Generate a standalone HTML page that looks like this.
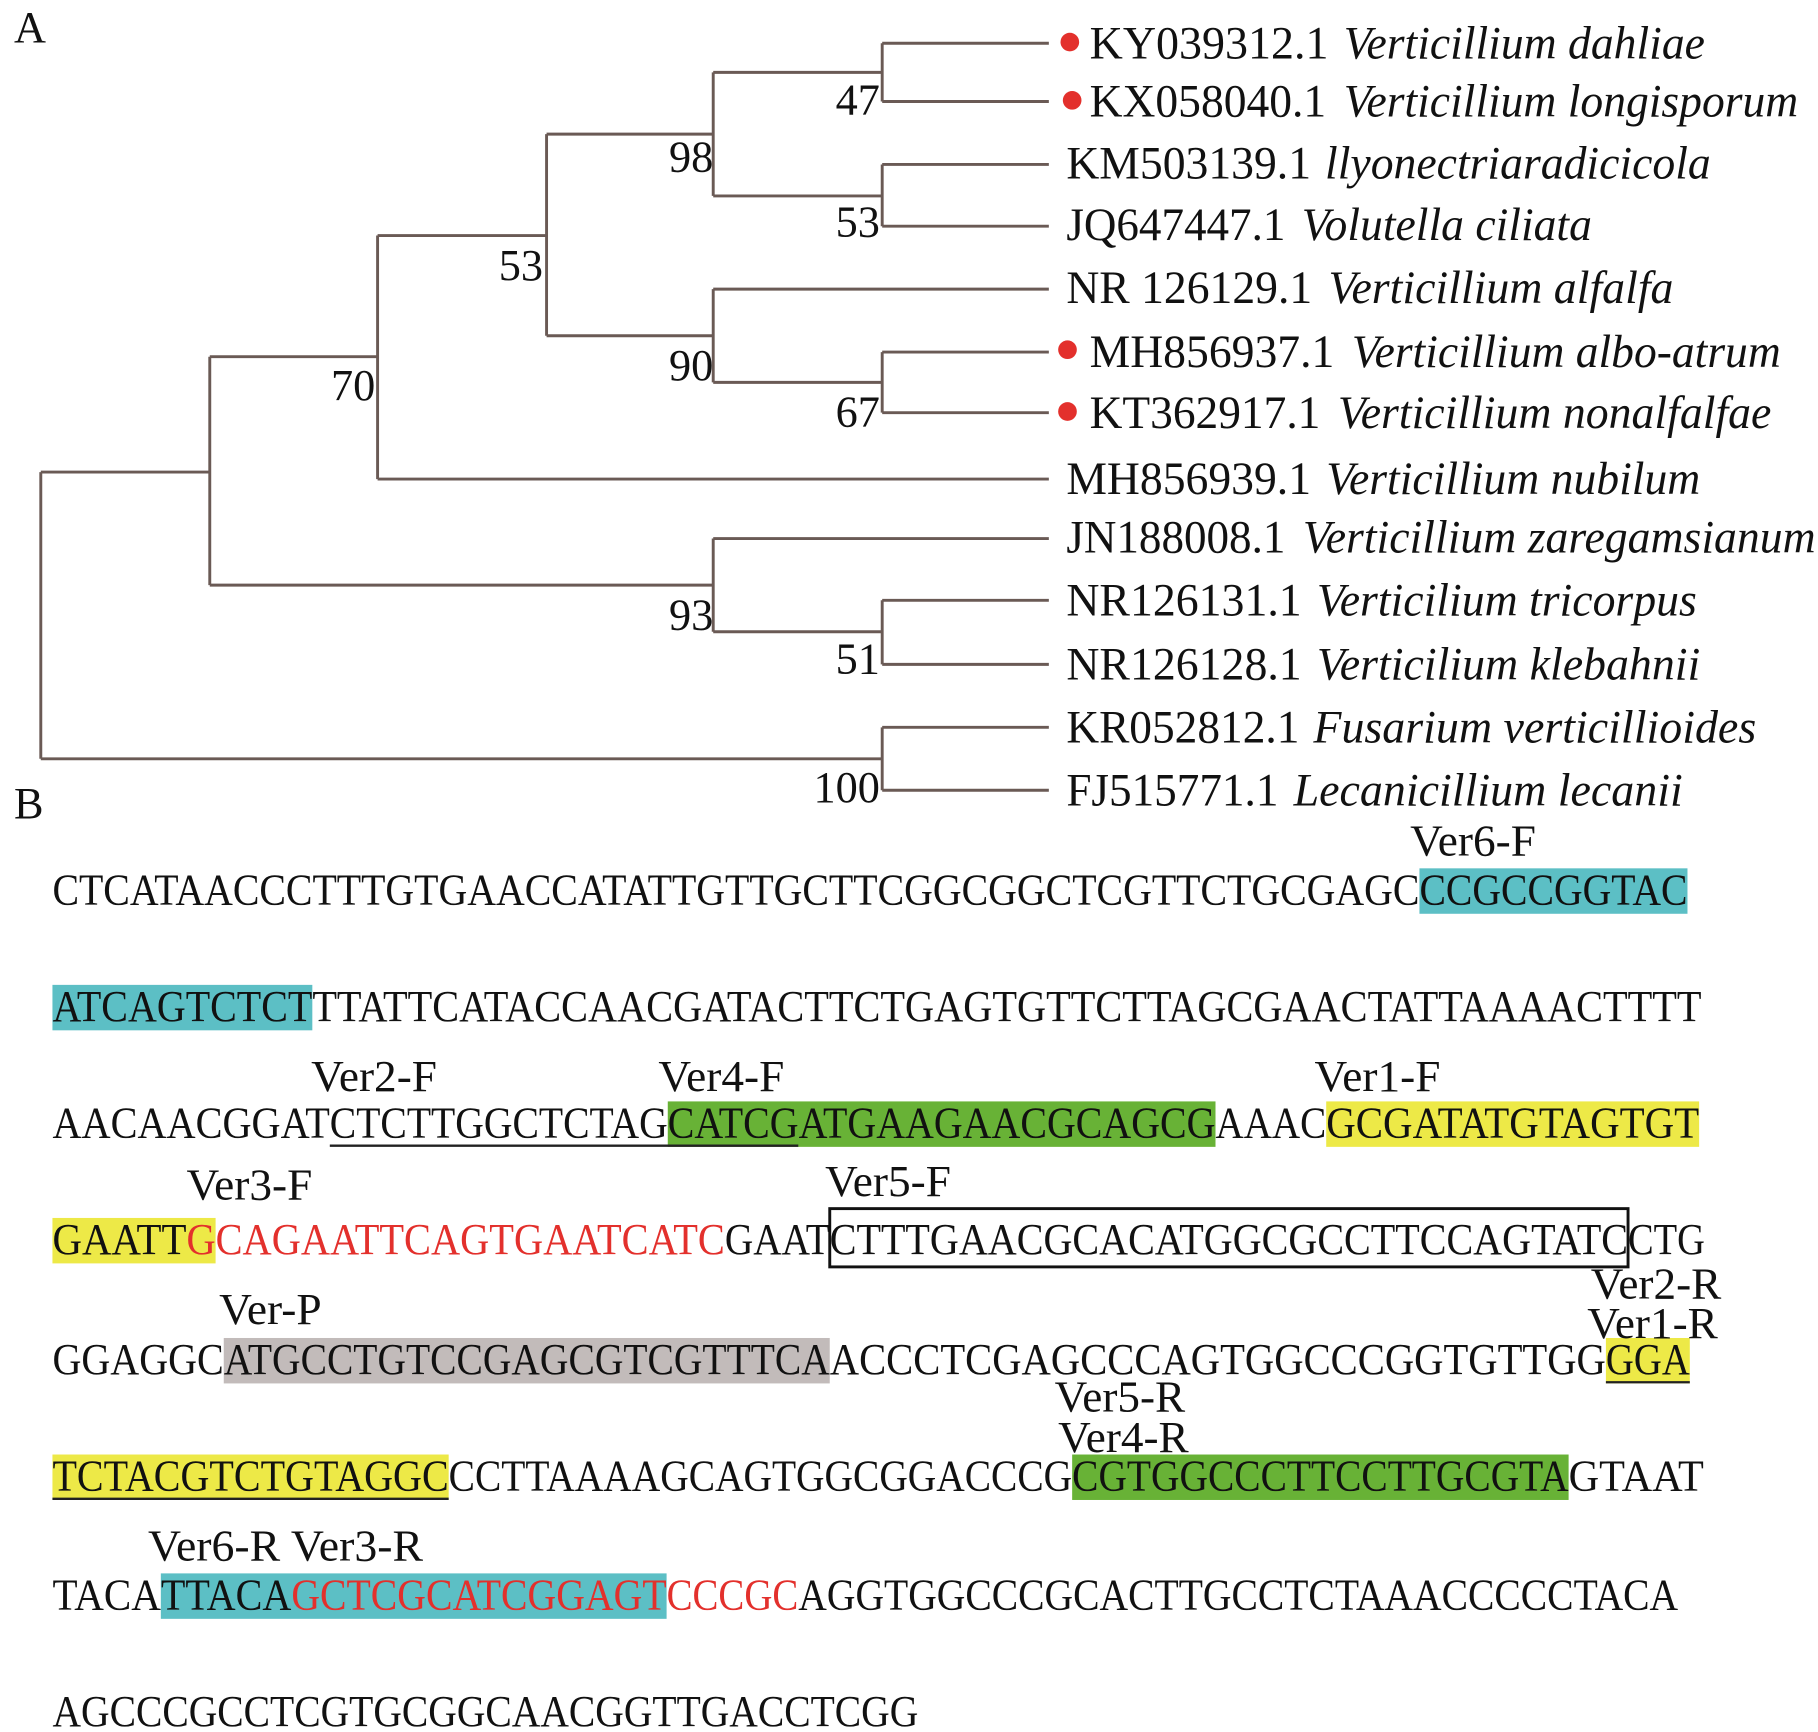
<!DOCTYPE html>
<html><head><meta charset="utf-8"><style>
html,body{margin:0;padding:0;background:#fff;}
svg{display:block;}
text{font-family:"Liberation Serif","DejaVu Serif",serif;font-size:38px;fill:#111;}
.t{font-size:40px;}
.i{font-style:italic;}
.r{fill:#e3302c;}
</style></head><body>
<svg width="1818" height="1732" viewBox="0 0 1560 1486" xmlns="http://www.w3.org/2000/svg">
<g stroke="#6a5a55" stroke-width="2.5" fill="none">
<path d="M35 405H180M180 306V502M180 306H324M180 502H612M324 202V411M324 202H469M324 411H900M469 115V288M469 115H612M469 288H612M612 62V168M612 62H757M612 168H757M757 37V87M757 37H900M757 87H900M757 141V194M757 141H900M757 194H900M612 248V328M612 248H900M612 328H757M757 302V354M757 302H900M757 354H900M612 462V542M612 462H900M612 542H757M757 515V570M757 515H900M757 570H900M35 405V651M35 651H757M757 624V678M757 624H900M757 678H900"/>
</g>
<text x="12" y="36">A</text>
<text x="12" y="702">B</text>
<g text-anchor="end">
<text x="755" y="98">47</text><text x="612" y="147">98</text><text x="755" y="203">53</text>
<text x="466" y="240">53</text><text x="612" y="326">90</text><text x="755" y="366">67</text>
<text x="322" y="343">70</text><text x="612" y="540">93</text><text x="755" y="578">51</text>
<text x="755" y="688">100</text>
</g>
<g fill="#e3302c"><circle cx="918" cy="36" r="8"/><circle cx="920" cy="86" r="8"/><circle cx="916" cy="300" r="8"/><circle cx="916" cy="353" r="8"/></g>
<g class="t">
<text class="t" x="935" y="50" textLength="205" lengthAdjust="spacingAndGlyphs">KY039312.1</text>
<text class="t i" x="1153" y="50" textLength="310" lengthAdjust="spacingAndGlyphs">Verticillium dahliae</text>
<text class="t" x="935" y="100" textLength="203" lengthAdjust="spacingAndGlyphs">KX058040.1</text>
<text class="t i" x="1153" y="100" textLength="390" lengthAdjust="spacingAndGlyphs">Verticillium longisporum</text>
<text class="t" x="915" y="153" textLength="210" lengthAdjust="spacingAndGlyphs">KM503139.1</text>
<text class="t i" x="1137" y="153" textLength="331" lengthAdjust="spacingAndGlyphs">llyonectriaradicicola</text>
<text class="t" x="915" y="206" textLength="188" lengthAdjust="spacingAndGlyphs">JQ647447.1</text>
<text class="t i" x="1117" y="206" textLength="249" lengthAdjust="spacingAndGlyphs">Volutella ciliata</text>
<text class="t" x="915" y="260" textLength="211" lengthAdjust="spacingAndGlyphs">NR 126129.1</text>
<text class="t i" x="1140" y="260" textLength="296" lengthAdjust="spacingAndGlyphs">Verticillium alfalfa</text>
<text class="t" x="935" y="315" textLength="210" lengthAdjust="spacingAndGlyphs">MH856937.1</text>
<text class="t i" x="1160" y="315" textLength="368" lengthAdjust="spacingAndGlyphs">Verticillium albo-atrum</text>
<text class="t" x="935" y="367" textLength="198" lengthAdjust="spacingAndGlyphs">KT362917.1</text>
<text class="t i" x="1148" y="367" textLength="372" lengthAdjust="spacingAndGlyphs">Verticillium nonalfalfae</text>
<text class="t" x="915" y="424" textLength="210" lengthAdjust="spacingAndGlyphs">MH856939.1</text>
<text class="t i" x="1138" y="424" textLength="321" lengthAdjust="spacingAndGlyphs">Verticillium nubilum</text>
<text class="t" x="915" y="474" textLength="188" lengthAdjust="spacingAndGlyphs">JN188008.1</text>
<text class="t i" x="1118" y="474" textLength="440" lengthAdjust="spacingAndGlyphs">Verticillium zaregamsianum</text>
<text class="t" x="915" y="528" textLength="202" lengthAdjust="spacingAndGlyphs">NR126131.1</text>
<text class="t i" x="1130" y="528" textLength="326" lengthAdjust="spacingAndGlyphs">Verticilium tricorpus</text>
<text class="t" x="915" y="583" textLength="202" lengthAdjust="spacingAndGlyphs">NR126128.1</text>
<text class="t i" x="1130" y="583" textLength="329" lengthAdjust="spacingAndGlyphs">Verticilium klebahnii</text>
<text class="t" x="915" y="637" textLength="200" lengthAdjust="spacingAndGlyphs">KR052812.1</text>
<text class="t i" x="1127" y="637" textLength="380" lengthAdjust="spacingAndGlyphs">Fusarium verticillioides</text>
<text class="t" x="915" y="691" textLength="182" lengthAdjust="spacingAndGlyphs">FJ515771.1</text>
<text class="t i" x="1110" y="691" textLength="334" lengthAdjust="spacingAndGlyphs">Lecanicillium lecanii</text>
</g>

<rect x="1218" y="745" width="230" height="39" fill="#5cbfc5"/>
<rect x="45" y="845" width="223" height="39" fill="#5cbfc5"/>
<rect x="573" y="945" width="470" height="39" fill="#68b236"/>
<rect x="1138" y="945" width="320" height="39" fill="#ede947"/>
<rect x="45" y="1045" width="140" height="39" fill="#ede947"/>
<rect x="712" y="1037" width="685" height="50" fill="none" stroke="#111" stroke-width="2.5"/>
<rect x="192" y="1148" width="520" height="39" fill="#c2bbba"/>
<rect x="1378" y="1148" width="72" height="39" fill="#ede947"/>
<rect x="45" y="1248" width="340" height="39" fill="#ede947"/>
<rect x="920" y="1248" width="426" height="39" fill="#68b236"/>
<rect x="138" y="1350" width="434" height="39" fill="#5cbfc5"/>
<g stroke="#222" stroke-width="2"><path d="M283 983H685M1378 1186H1450M45 1286H385"/></g>

<g>
<text x="45" y="776" textLength="1173" lengthAdjust="spacingAndGlyphs">CTCATAACCCTTTGTGAACCATATTGTTGCTTCGGCGGCTCGTTCTGCGAGC</text>
<text x="1218" y="776" textLength="230" lengthAdjust="spacingAndGlyphs">CCGCCGGTAC</text>
<text x="1210" y="734" textLength="108" lengthAdjust="spacingAndGlyphs">Ver6-F</text>

<text x="45" y="876" textLength="223" lengthAdjust="spacingAndGlyphs">ATCAGTCTCT</text>
<text x="268" y="876" textLength="1192" lengthAdjust="spacingAndGlyphs">TTATTCATACCAACGATACTTCTGAGTGTTCTTAGCGAACTATTAAAACTTTT</text>

<text x="267" y="936" textLength="108" lengthAdjust="spacingAndGlyphs">Ver2-F</text><text x="565" y="936" textLength="108" lengthAdjust="spacingAndGlyphs">Ver4-F</text><text x="1128" y="936" textLength="108" lengthAdjust="spacingAndGlyphs">Ver1-F</text>
<text x="45" y="976" textLength="238" lengthAdjust="spacingAndGlyphs">AACAACGGAT</text>
<text x="283" y="976" textLength="290" lengthAdjust="spacingAndGlyphs">CTCTTGGCTCTAG</text>
<text x="573" y="976" textLength="470" lengthAdjust="spacingAndGlyphs">CATCGATGAAGAACGCAGCG</text>
<text x="1043" y="976" textLength="95" lengthAdjust="spacingAndGlyphs">AAAC</text>
<text x="1138" y="976" textLength="320" lengthAdjust="spacingAndGlyphs">GCGATATGTAGTGT</text>

<text x="160" y="1029" textLength="108" lengthAdjust="spacingAndGlyphs">Ver3-F</text><text x="708" y="1026" textLength="108" lengthAdjust="spacingAndGlyphs">Ver5-F</text>
<text x="45" y="1076" textLength="115" lengthAdjust="spacingAndGlyphs">GAATT</text>
<text class="r" x="160" y="1076" textLength="25" lengthAdjust="spacingAndGlyphs">G</text>
<text class="r" x="185" y="1076" textLength="437" lengthAdjust="spacingAndGlyphs">CAGAATTCAGTGAATCATC</text>
<text x="622" y="1076" textLength="90" lengthAdjust="spacingAndGlyphs">GAAT</text>
<text x="712" y="1076" textLength="685" lengthAdjust="spacingAndGlyphs">CTTTGAACGCACATGGCGCCTTCCAGTATC</text>
<text x="1397" y="1076" textLength="66" lengthAdjust="spacingAndGlyphs">CTG</text>

<text x="188" y="1136" textLength="88" lengthAdjust="spacingAndGlyphs">Ver-P</text><text x="1365" y="1114" textLength="112" lengthAdjust="spacingAndGlyphs">Ver2-R</text><text x="1362" y="1148" textLength="112" lengthAdjust="spacingAndGlyphs">Ver1-R</text>
<text x="45" y="1179" textLength="147" lengthAdjust="spacingAndGlyphs">GGAGGC</text>
<text x="192" y="1179" textLength="520" lengthAdjust="spacingAndGlyphs">ATGCCTGTCCGAGCGTCGTTTCA</text>
<text x="712" y="1179" textLength="666" lengthAdjust="spacingAndGlyphs">ACCCTCGAGCCCAGTGGCCCGGTGTTGG</text>
<text x="1378" y="1179" textLength="72" lengthAdjust="spacingAndGlyphs">GGA</text>

<text x="905" y="1211" textLength="112" lengthAdjust="spacingAndGlyphs">Ver5-R</text><text x="908" y="1246" textLength="112" lengthAdjust="spacingAndGlyphs">Ver4-R</text>
<text x="45" y="1279" textLength="340" lengthAdjust="spacingAndGlyphs">TCTACGTCTGTAGGC</text>
<text x="385" y="1279" textLength="535" lengthAdjust="spacingAndGlyphs">CCTTAAAAGCAGTGGCGGACCCG</text>
<text x="920" y="1279" textLength="426" lengthAdjust="spacingAndGlyphs">CGTGGCCCTTCCTTGCGTA</text>
<text x="1346" y="1279" textLength="116" lengthAdjust="spacingAndGlyphs">GTAAT</text>

<text x="127" y="1339" textLength="236" lengthAdjust="spacingAndGlyphs">Ver6-R Ver3-R</text>
<text x="45" y="1381" textLength="93" lengthAdjust="spacingAndGlyphs">TACA</text>
<text x="138" y="1381" textLength="112" lengthAdjust="spacingAndGlyphs">TTACA</text>
<text class="r" x="250" y="1381" textLength="322" lengthAdjust="spacingAndGlyphs">GCTCGCATCGGAGT</text>
<text class="r" x="572" y="1381" textLength="113" lengthAdjust="spacingAndGlyphs">CCCGC</text>
<text x="685" y="1381" textLength="755" lengthAdjust="spacingAndGlyphs">AGGTGGCCCGCACTTGCCTCTAAACCCCCTACA</text>

<text x="45" y="1481" textLength="743" lengthAdjust="spacingAndGlyphs">AGCCCGCCTCGTGCGGCAACGGTTGACCTCGG</text>
</g>
</svg>
</body></html>
